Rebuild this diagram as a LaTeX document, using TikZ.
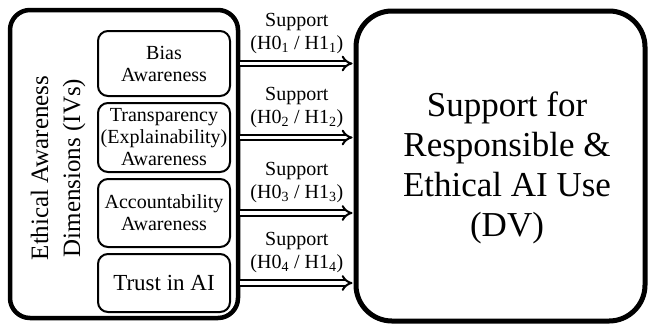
\documentclass[tikz,border=0pt]{standalone}
\usepackage{fontspec}
\setmainfont{Liberation Serif}
\usetikzlibrary{arrows.meta}
\begin{document}
\begin{tikzpicture}[x=1pt,y=-1pt,
  outerbox/.style={draw, line width=4.5pt, rounded corners=20pt, inner sep=0pt},
  ivbox/.style={draw, line width=2pt, rounded corners=10pt, minimum width=132pt, align=center, inner sep=0pt, font=\fontsize{20}{22}\selectfont},
  dvbox/.style={draw, line width=5pt, rounded corners=36pt, inner sep=0pt},
  arr/.style={double, line width=2pt, double distance=3.2pt, -{Implies[scale=1.25]}, shorten >=1pt},
  lab/.style={align=center, font=\fontsize{20}{23}\selectfont, inner sep=1pt}]
\useasboundingbox (0,0) rectangle (652,325);
\node[outerbox, minimum width=228pt, minimum height=308pt] (ivs) at (124,164) {};
\node[rotate=90, align=center, font=\fontsize{25}{32}\selectfont] (ivlabel) at (58,168) {Ethical Awareness\\Dimensions (IVs)};
\node[ivbox, minimum height=65pt] (bias) at (164,63.5) {Bias\\Awareness};
\node[ivbox, minimum height=69pt] (transp) at (164,137.5) {Transparency\\(Explainability)\\Awareness};
\node[ivbox, minimum height=68pt] (account) at (164,213) {Accountability\\Awareness};
\node[ivbox, minimum height=58pt, font=\fontsize{23}{25}\selectfont] (trust) at (164,283) {Trust in AI};
\node[dvbox, minimum width=289pt, minimum height=310pt] (dv) at (500.5,166) {};
\node[align=center, font=\fontsize{35}{40}\selectfont] (dvlabel) at (507,168) {Support for\\Responsible \&\\Ethical AI Use\\(DV)};
\draw[arr] (ivs.east |- bias.center) -- (dv.west |- bias.center)
  node[midway, above=8pt, lab] {Support\\(H0\textsubscript{1} / H1\textsubscript{1})};
\draw[arr] (ivs.east |- transp.center) -- (dv.west |- transp.center)
  node[midway, above=8pt, lab] {Support\\(H0\textsubscript{2} / H1\textsubscript{2})};
\draw[arr] (ivs.east |- account.center) -- (dv.west |- account.center)
  node[midway, above=8pt, lab] {Support\\(H0\textsubscript{3} / H1\textsubscript{3})};
\draw[arr] (ivs.east |- trust.center) -- (dv.west |- trust.center)
  node[midway, above=8pt, lab] {Support\\(H0\textsubscript{4} / H1\textsubscript{4})};
\end{tikzpicture}
\end{document}
